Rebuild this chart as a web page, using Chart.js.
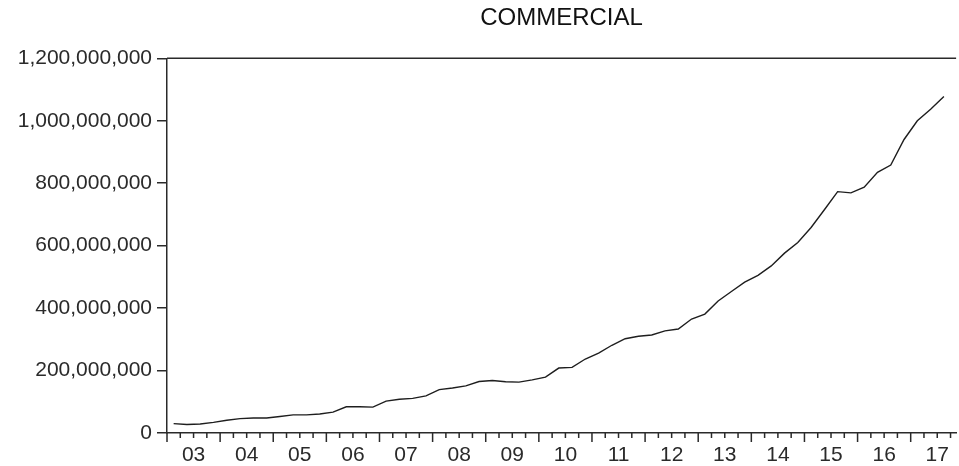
<!DOCTYPE html>
<html>
<head>
<meta charset="utf-8">
<script src="https://cdn.jsdelivr.net/npm/chart.js@4.4.1/dist/chart.umd.min.js"></script>
<style>
  html, body { margin: 0; padding: 0; background: #ffffff; }
  #wrap { width: 959px; height: 466px; }
</style>
</head>
<body>
<div id="wrap"><canvas id="commercialChart" width="959" height="466"></canvas></div>
<script>
// quarterly observations, 2003Q1 .. 2017Q3
const yearLabels = ['03', '04', '05', '06', '07', '08', '09', '10', '11', '12', '13', '14', '15', '16', '17'];
const commercial = [
  30e6, 27e6, 29e6, 34e6,
  41e6, 46e6, 48e6, 48e6,
  53e6, 58e6, 58e6, 61e6,
  67e6, 84e6, 84e6, 83e6,
  102e6, 108e6, 111e6, 119e6,
  139e6, 144e6, 151e6, 165e6,
  168e6, 164e6, 163e6, 170e6,
  179e6, 208e6, 210e6, 237e6,
  256e6, 281e6, 302e6, 310e6,
  314e6, 327e6, 333e6, 365e6,
  381e6, 423e6, 453e6, 483e6,
  505e6, 535e6, 576e6, 610e6,
  658e6, 715e6, 773e6, 769e6,
  787e6, 835e6, 858e6, 940e6,
  1000e6, 1037e6, 1078e6
];
const yTicks = [0, 200e6, 400e6, 600e6, 800e6, 1000e6, 1200e6];

const ink = '#2a2a2a';
const font = { family: "'Liberation Sans', Arial, sans-serif", size: 21 };

// frame top line and the quarter / year tick marks under the x axis
const framePlugin = {
  id: 'frame',
  afterDraw(chart) {
    const { ctx, chartArea } = chart;
    const x = chart.scales.x;
    ctx.save();
    ctx.strokeStyle = ink;
    ctx.lineWidth = 1.5;
    ctx.beginPath();
    ctx.moveTo(chartArea.left, chartArea.top);
    ctx.lineTo(chartArea.right, chartArea.top);
    for (let q = 0; q <= commercial.length + 1; q++) {
      const px = x.getPixelForValue(q - 0.5);
      if (px > chartArea.right) break;
      const len = q % 4 === 0 ? 9 : 5;
      ctx.moveTo(px, chartArea.bottom);
      ctx.lineTo(px, chartArea.bottom + len);
    }
    ctx.stroke();
    ctx.restore();
  }
};

new Chart(document.getElementById('commercialChart'), {
  type: 'line',
  data: {
    datasets: [{
      label: 'COMMERCIAL',
      data: commercial.map((v, i) => ({ x: i, y: v })),
      borderColor: '#1e1e1e',
      borderWidth: 1.4,
      pointRadius: 0,
      tension: 0,
      fill: false
    }]
  },
  options: {
    responsive: false,
    animation: false,
    events: [],
    layout: { padding: { top: 0, right: 0, bottom: 0, left: 0 } },
    plugins: {
      legend: { display: false },
      tooltip: { enabled: false },
      title: {
        display: true,
        text: 'COMMERCIAL',
        color: '#111',
        font: { family: font.family, size: 24, weight: 'normal' },
        fullSize: false,
        padding: { top: 4, bottom: 25.5 }
      }
    },
    scales: {
      x: {
        type: 'linear',
        min: -0.5,
        max: 58.92,
        afterBuildTicks(scale) {
          scale.ticks = yearLabels.map((_, k) => ({ value: 4 * k + 1.5 }));
        },
        afterFit(scale) {
          scale.height = 33;
        },
        ticks: {
          autoSkip: false,
          maxRotation: 0,
          padding: 10,
          color: ink,
          font,
          callback: (v, i) => yearLabels[i]
        },
        grid: { display: false, drawTicks: false },
        border: { display: true, color: ink, width: 1.5 }
      },
      y: {
        min: 0,
        max: 1200e6,
        afterBuildTicks(scale) {
          scale.ticks = yTicks.map(v => ({ value: v }));
        },
        afterFit(scale) {
          scale.width = 167;
        },
        ticks: {
          padding: 5,
          color: ink,
          font,
          callback: v => v.toLocaleString('en-US')
        },
        grid: { drawOnChartArea: false, drawTicks: true, tickLength: 10, color: ink, lineWidth: 1.5 },
        border: { display: true, color: ink, width: 1.5 }
      }
    }
  },
  plugins: [framePlugin]
});
</script>
</body>
</html>
